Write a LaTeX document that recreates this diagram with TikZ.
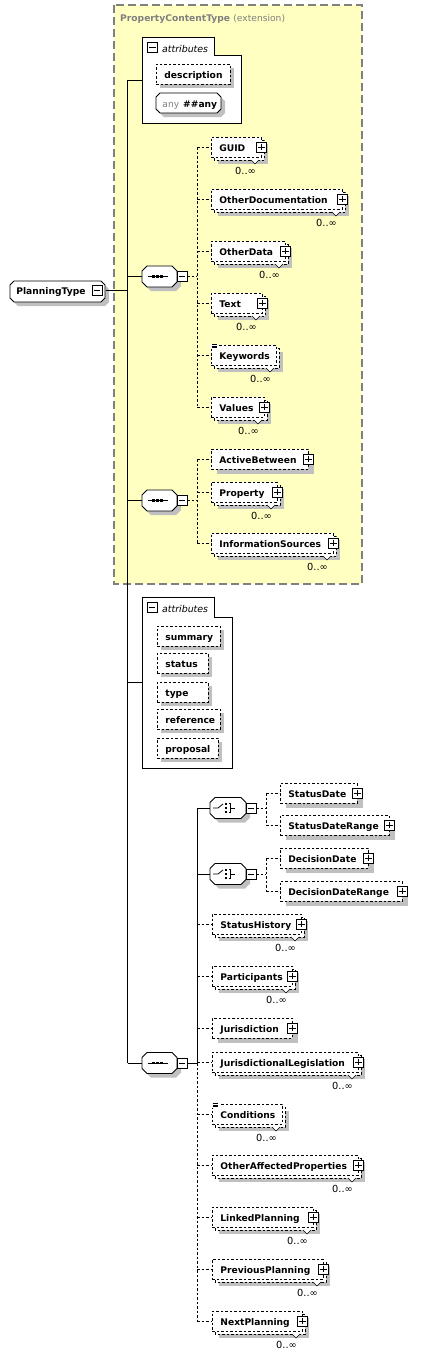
\documentclass[tikz,border=0pt]{standalone}
\usepackage{fontspec}
\setmainfont{DejaVu Sans}
\usetikzlibrary{calc}
\definecolor{yel}{HTML}{FFFFC2}
\definecolor{shd}{HTML}{C0C0C0}
\definecolor{ttl}{HTML}{808080}
\newcommand\elfont{\fontsize{9.15}{11}\selectfont\bfseries}
\newcommand\occfont{\fontsize{9.8}{11}\selectfont}
\tikzset{
 elbox/.style={draw, line width=0.8pt, dash pattern=on 2.5pt off 2pt, fill=white, inner xsep=8pt, inner ysep=0pt, minimum height=20pt, text height=9pt, text depth=1pt, font=\elfont, anchor=west},
 pmbox/.style={draw, solid, line width=0.8pt, fill=white, minimum size=10pt, inner sep=0pt},
 conn/.style={line width=0.9pt},
 dconn/.style={line width=0.9pt, dash pattern=on 2.5pt off 2pt},
 occ/.style={font=\occfont, inner sep=0pt, anchor=base east, text=black},
 hid/.style={inner sep=0pt, outer sep=0pt},
 attrtitle/.style={anchor=base west, inner sep=0pt, font=\fontsize{9.4}{11}\selectfont\itshape},
}
\newcommand\OctaP[5]{(#1+#5,#2) -- (#3-#5,#2) -- (#3,#2+#5) -- (#3,#4-#5) -- (#3-#5,#4) -- (#1+#5,#4) -- (#1,#4-#5) -- (#1,#2+#5) -- cycle}
\newcommand\ElBox[5]{\node[elbox, minimum width={#3pt-#2pt}] (#1) at (#2,#4) {\makebox[\dimexpr#3pt-#2pt-16pt\relax][l]{#5}};}
\newcommand\ElS[5]{\fill[shd] (#2+6,#4-10+5) rectangle (#3+6,#4+10+5); \ElBox{#1}{#2}{#3}{#4}{#5}}
\newcommand\ElM[5]{%
 \fill[shd] (#2+7,#4-10+7) rectangle (#3+7,#4+10+7);
 \draw[line width=0.8pt, dash pattern=on 2.5pt off 2pt, fill=white] (#2+3,#4-10+3) rectangle (#3+3,#4+10+3);
 \draw[line width=0.6pt, fill=white] (#3-10,#4+13) -- (#3-6,#4+17) -- (#3-2,#4+13);
 \ElBox{#1}{#2}{#3}{#4}{#5}
 \node[occ] (#1-o) at (#3-5,#4+27) {0..∞};}
\newcommand\Attr[5]{\fill[shd] (#2+4,#4-10+4) rectangle (#3+4,#4+10+4); \ElBox{#1}{#2}{#3}{#4}{#5}}
\newcommand\Plus[1]{\node[pmbox] (#1-p) at (#1.east) {}; \draw[line width=0.8pt] ([xshift=2pt]#1-p.west) -- ([xshift=-2pt]#1-p.east) ([yshift=-2pt]#1-p.north) -- ([yshift=2pt]#1-p.south);}
\newcommand\Minus[3]{\node[pmbox] (#1) at (#2,#3) {}; \draw[line width=0.8pt] ([xshift=2pt]#1.west) -- ([xshift=-2pt]#1.east);}
\newcommand\Comp[4]{%
 \fill[shd] \OctaP{#2-#4+4}{#3-10.5+4}{#2+#4+4}{#3+10.5+4}{5};
 \draw[line width=0.8pt, fill=white] \OctaP{#2-#4}{#3-10.5}{#2+#4}{#3+10.5}{5};
 \node[hid, minimum width={2*#4pt}, minimum height=21pt] (#1) at (#2,#3) {};
 \Minus{#1-m}{#2+#4+5}{#3}}
\newcommand\SeqIcon[2]{%
 \draw[line width=0.8pt] (#1-12,#2) -- (#1+8,#2);
 \fill (#1-7.8,#2-1.4) rectangle (#1-5.0,#2+1.4);
 \fill (#1-3.8,#2-1.4) rectangle (#1-1.0,#2+1.4);
 \fill (#1+0.2,#2-1.4) rectangle (#1+3.0,#2+1.4);}
\newcommand\ChIcon[2]{%
 \draw[line width=0.8pt] (#1-15,#2) -- (#1-10,#2) -- (#1-5,#2-4);
 \fill (#1-3.2,#2-5.2) rectangle (#1-0.8,#2-2.8);
 \fill (#1-3.2,#2-1.2) rectangle (#1-0.8,#2+1.2);
 \fill (#1-3.2,#2+2.8) rectangle (#1-0.8,#2+5.2);
 \draw[line width=0.8pt] (#1+0.5,#2-4.5) -- (#1+2.5,#2-4.5) -- (#1+2.5,#2+4.5) -- (#1+0.5,#2+4.5) (#1+2.5,#2) -- (#1+7,#2);}
\newcommand\LinesIcon[1]{%
 \fill[white] ([xshift=-1pt,yshift=1pt]#1.north west) rectangle ([xshift=7pt,yshift=-4pt]#1.north west);
 \draw[line width=0.6pt] ([xshift=0.5pt,yshift=0.5pt]#1.north west) -- ++(5pt,0pt) ([xshift=0.5pt,yshift=-1.2pt]#1.north west) -- ++(5pt,0pt) ([xshift=0.5pt,yshift=-2.9pt]#1.north west) -- ++(5pt,0pt);}
\begin{document}
\begin{tikzpicture}[x=1pt,y=-1pt]
\fill[white] (0,0) rectangle (430,1355);
\useasboundingbox (0,0) rectangle (430,1355);
% extension region
\fill[yel] (114,5) rectangle (362,584);
\draw[ttl, line width=1.2pt, dash pattern=on 8pt off 4pt] (114,5) rectangle (362,584);
\node[anchor=base west, inner sep=0pt, font=\elfont, text=ttl] (title) at (120,21.5) {PropertyContentType {\mdseries(extension)}};
% attributes 1
\node[hid, anchor=north west, minimum width=99pt, minimum height=86pt] (attr1) at (142,37) {};
\draw[line width=0.9pt, fill=white] (142,37) -- (214,37) -- (214,55) -- (241,55) -- (241,123) -- (142,123) -- cycle;
\Minus{attr1-m}{152.5}{47.5}
\node[attrtitle] (attr1-t) at (162,52) {attributes};
\Attr{desc}{156}{230}{74}{description}
\fill[shd] \OctaP{160}{97}{225}{117}{4};
\draw[line width=0.8pt, fill=white] \OctaP{156}{93}{221}{113}{4};
\node[elbox, draw=none, fill=none, minimum width=65pt] (anyattr) at (156,103) {\makebox[49pt][l]{\hspace{-2pt}{\mdseries\textcolor{ttl}{any}}\hspace{4pt}\#\#any}};
% root
\fill[shd] \OctaP{14}{285}{109}{306}{4};
\draw[line width=0.8pt, fill=white] \OctaP{10}{281}{105}{302}{4};
\node[elbox, draw=none, fill=none, minimum width=95pt, inner xsep=6pt] (pt) at (10,290) {\makebox[83pt][l]{PlanningType}};
\Minus{pt-m}{97}{290.5}
% sequence 1
\Comp{seq1}{159.5}{276.5}{17.5}
\SeqIcon{159.5}{276.5}
\ElM{guid}{211}{261}{147}{GUID} \Plus{guid}
\ElM{otherdoc}{211}{342}{199}{OtherDocumentation} \Plus{otherdoc}
\ElM{otherdata}{211}{285}{251}{OtherData} \Plus{otherdata}
\ElM{txt}{211}{262}{303}{Text} \Plus{txt}
\ElM{keywords}{211}{276}{355}{Keywords} \LinesIcon{keywords}
\ElM{values}{211}{264}{407}{Values} \Plus{values}
% sequence 2
\Comp{seq2}{159.5}{500.5}{17.5}
\SeqIcon{159.5}{500.5}
\ElS{activeb}{211}{308}{459}{ActiveBetween} \Plus{activeb}
\ElM{property}{211}{277}{492}{Property} \Plus{property}
\ElM{infosrc}{211}{333}{543}{InformationSources} \Plus{infosrc}
% attributes 2
\node[hid, anchor=north west, minimum width=90pt, minimum height=171pt] (attr2) at (142,597) {};
\draw[line width=0.9pt, fill=white] (142,597) -- (214,597) -- (214,617) -- (232,617) -- (232,768) -- (142,768) -- cycle;
\Minus{attr2-m}{152}{607.5}
\node[attrtitle] (attr2-t) at (162,612) {attributes};
\Attr{summary}{157}{220}{636}{summary}
\Attr{status}{157}{208}{663}{status}
\Attr{type}{157}{208}{692}{type}
\Attr{reference}{157}{220}{719}{reference}
\Attr{proposal}{157}{218}{748}{proposal}
% sequence 3
\Comp{seq3}{159.5}{1063}{17.5}
\SeqIcon{159.5}{1063}
\Comp{ch1}{228}{808}{18}
\ChIcon{228}{808}
\Comp{ch2}{228}{874}{18}
\ChIcon{228}{874}
\ElS{statusdate}{280}{357}{793}{StatusDate} \Plus{statusdate}
\ElS{statusdr}{280}{389}{825}{StatusDateRange} \Plus{statusdr}
\ElS{decisiond}{280}{368}{858}{DecisionDate} \Plus{decisiond}
\ElS{decisiondr}{280}{402}{891}{DecisionDateRange} \Plus{decisiondr}
\ElM{statushist}{212}{301}{924}{StatusHistory} \Plus{statushist}
\ElM{participants}{212}{292}{976}{Participants} \Plus{participants}
\ElS{jurisdiction}{212}{292}{1028}{Jurisdiction} \Plus{jurisdiction}
\ElM{jurleg}{212}{358}{1062}{JurisdictionalLegislation} \Plus{jurleg}
\ElM{conditions}{212}{282}{1114}{Conditions} \LinesIcon{conditions}
\ElM{otheraff}{212}{358}{1165}{OtherAffectedProperties} \Plus{otheraff}
\ElM{linked}{212}{313}{1217}{LinkedPlanning} \Plus{linked}
\ElM{previous}{212}{323}{1269}{PreviousPlanning} \Plus{previous}
\ElM{nextp}{212}{302}{1321}{NextPlanning} \Plus{nextp}
% connectors
\coordinate (tr) at (127.5,0);
\coordinate (v1) at (197,0);
\coordinate (v3) at (197,0);
\coordinate (c1v) at (266,0);
\draw[conn] (attr1.west -| tr) -- (seq3.west -| tr);
\draw[conn] (pt.east) -- (pt.east -| tr);
\foreach \n in {attr1,seq1,seq2,attr2,seq3} \draw[conn] (\n.west -| tr) -- (\n.west);
\draw[dconn] (seq1-m.east) -- (seq1-m.east -| v1);
\draw[dconn] (guid.west -| v1) -- (values.west -| v1);
\foreach \n in {guid,otherdoc,otherdata,txt,keywords,values} \draw[dconn] (\n.west -| v1) -- (\n.west);
\draw[dconn] (seq2-m.east) -- (seq2-m.east -| v1);
\draw[dconn] (activeb.west -| v1) -- (infosrc.west -| v1);
\foreach \n in {activeb,property,infosrc} \draw[dconn] (\n.west -| v1) -- (\n.west);
\draw[conn] (seq3-m.east) -- (seq3-m.east -| v3);
\draw[conn] (ch1.west -| v3) -- (seq3-m.east -| v3);
\draw[dconn] (seq3-m.east -| v3) -- (nextp.west -| v3);
\draw[conn] (ch1.west -| v3) -- (ch1.west);
\draw[conn] (ch2.west -| v3) -- (ch2.west);
\foreach \n in {statushist,participants,jurisdiction,jurleg,conditions,otheraff,linked,previous,nextp} \draw[dconn] (\n.west -| v3) -- (\n.west);
\draw[dconn] (ch1-m.east) -- (ch1-m.east -| c1v);
\draw[dconn] (statusdate.west -| c1v) -- (statusdr.west -| c1v);
\foreach \n in {statusdate,statusdr} \draw[dconn] (\n.west -| c1v) -- (\n.west);
\draw[dconn] (ch2-m.east) -- (ch2-m.east -| c1v);
\draw[dconn] (decisiond.west -| c1v) -- (decisiondr.west -| c1v);
\foreach \n in {decisiond,decisiondr} \draw[dconn] (\n.west -| c1v) -- (\n.west);
\end{tikzpicture}
\end{document}
